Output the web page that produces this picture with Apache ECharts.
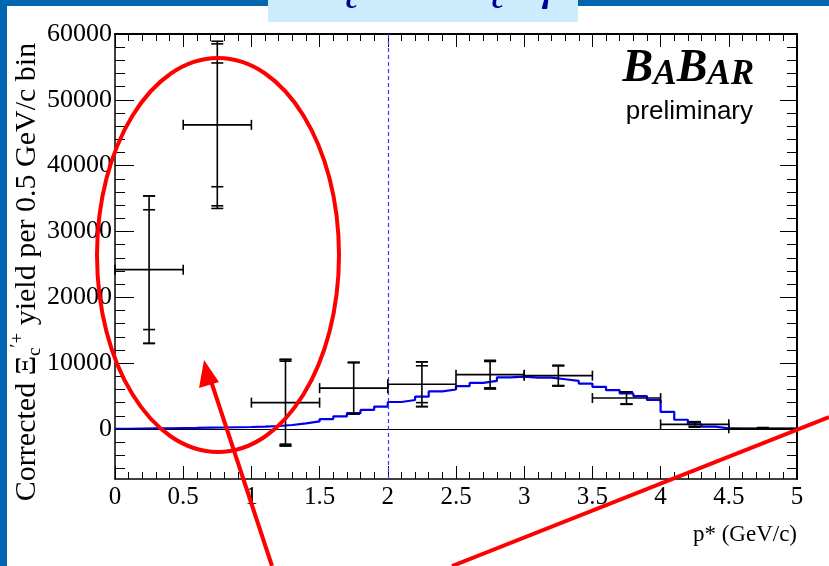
<!DOCTYPE html>
<html>
<head>
<meta charset="utf-8">
<script src="https://cdn.jsdelivr.net/npm/echarts@6/dist/echarts.min.js"></script>
<style>
html,body{margin:0;padding:0;background:#fff;}
#chart{width:829px;height:566px;}
</style>
</head>
<body>
<div id="chart"></div>
<script>
// ---- data ----
const binCenters = [0.25, 0.75, 1.25, 1.75, 2.25, 2.75, 3.25, 3.75, 4.25, 4.75];
const binHalfWidth = [0.25, 0.25, 0.25, 0.25, 0.25, 0.25, 0.25, 0.25, 0.25, 0.25];
const yields  = [24200, 46200, 4000, 6200, 6800, 8250, 8100, 4700, 700, 100];
const statErr = [9100, 9400, 6300, 3900, 2800, 2000, 1500, 900, 350, 80];
const totErr  = [11200, 12300, 6500, 3900, 3400, 2150, 1550, 950, 400, 100];
const totErr2 = [11200, 12700, 6600, 3900, 3400, 2150, 1550, 950, 400, 100];

const mcBinLow = [0.0,0.1,0.2,0.3,0.4,0.5,0.6,0.7,0.8,0.9,
                  1.0,1.1,1.2,1.3,1.4,1.5,1.6,1.7,1.8,1.9,
                  2.0,2.1,2.2,2.3,2.4,2.5,2.6,2.7,2.8,2.9,
                  3.0,3.1,3.2,3.3,3.4,3.5,3.6,3.7,3.8,3.9,
                  4.0,4.1,4.2,4.3,4.4,4.5,4.6,4.7,4.8,4.9];
const mcValues = [30,60,90,110,140,160,190,220,260,300,
                  350,450,600,850,1150,1500,1900,2400,2900,3400,
                  4100,4400,4900,5700,6000,6500,7000,7300,7850,7950,
                  7800,7800,7550,7300,6900,6400,5900,5400,5000,4400,
                  2600,1400,700,350,100,30,10,0,0,0];

const xTickLabels = [0,0.5,1,1.5,2,2.5,3,3.5,4,4.5,5];
const yTickLabels = [0,10000,20000,30000,40000,50000,60000];
const yMin = -7600, yMax = 60000;
const dividerX = 2;

// ---- derived ----
const errData = binCenters.map((c,i)=>[c, yields[i], statErr[i], totErr[i], totErr2[i], binHalfWidth[i]]);
const histData = mcBinLow.map((x,i)=>[x, mcValues[i]]);
histData.push([5, mcValues[mcValues.length-1]]);
const yMinor = [];
for (let v = -6000; v <= 60000; v += 2000) if (v % 10000 !== 0) yMinor.push(v);

const serif = 'Liberation Serif';
const chart = echarts.init(document.getElementById('chart'), null, {renderer:'canvas'});

function xAxisCfg(pos, labels){
  return {
    type:'value', min:0, max:5, interval:0.5, position:pos,
    axisLine:{show:true, onZero:false, lineStyle:{color:'#000', width: pos==='top'?2:1.5}},
    axisTick:{show:true, inside:true, length:13, lineStyle:{color:'#000', width:1}},
    minorTick:{show:true, splitNumber:5, length:7, lineStyle:{color:'#000', width:1}},
    axisLabel:{show:labels, fontFamily:serif, fontSize:25, color:'#000', margin:6,
               formatter:(v)=>String(v), showMinLabel:true, showMaxLabel:true},
    splitLine:{show:false}, minorSplitLine:{show:false}
  };
}
function yAxisCfg(pos, labels, ticks, len, lineShow){
  return {
    type:'value', min:yMin, max:yMax, position:pos, offset:0,
    axisLine:{show:lineShow, onZero:false, lineStyle:{color:'#000', width: pos==='right'?2:1.5}},
    axisTick:{show:true, inside:true, length:len, customValues:ticks, lineStyle:{color:'#000', width:1}},
    axisLabel:{show:labels, customValues:ticks, fontFamily:serif, fontSize:26, color:'#000', margin:3,
               formatter:(v)=>String(v)},
    splitLine:{show:false}
  };
}

const option = {
  backgroundColor:'#fff',
  animation:false,
  grid:{left:115, right:32, top:34, bottom:87, containLabel:false},
  xAxis:[ xAxisCfg('bottom', true), xAxisCfg('top', false) ],
  yAxis:[
    yAxisCfg('left', true, yTickLabels, 19, true),
    yAxisCfg('right', false, yTickLabels, 17, true),
    yAxisCfg('left', false, yMinor, 10, false),
    yAxisCfg('right', false, yMinor, 10, false)
  ],
  series:[
    {
      type:'line', name:'refs', data:[], z:1,
      markLine:{
        silent:true, symbol:'none', animation:false,
        label:{show:false},
        data:[
          {yAxis:0, lineStyle:{color:'#000', width:1.2, type:'solid'}},
          {xAxis:dividerX, lineStyle:{color:'#3a3aff', width:1.2, type:[4,3]}}
        ]
      }
    },
    {
      type:'line', name:'MC', data:histData, step:'end', showSymbol:false, symbol:'none',
      lineStyle:{color:'#0000ee', width:2.2}, z:3, silent:true
    },
    {
      type:'custom', name:'data', data:errData, z:5, silent:true,
      encode:{x:0, y:1},
      renderItem:function(params, api){
        const x=api.value(0), y=api.value(1), s=api.value(2), t=api.value(3), t2=api.value(4), hw=api.value(5);
        const c=api.coord([x,y]);
        const xl=api.coord([x-hw,y])[0], xr=api.coord([x+hw,y])[0];
        const py=(v)=>api.coord([x,v])[1];
        const st={stroke:'#000', lineWidth:1.6};
        const L=(x1,y1,x2,y2)=>({type:'line', shape:{x1,y1,x2,y2}, style:st});
        const ch=[];
        ch.push(L(c[0], py(y+t2), c[0], py(y-t2)));
        ch.push(L(xl, c[1], xr, c[1]));
        ch.push(L(xl, c[1]-5, xl, c[1]+5));
        ch.push(L(xr, c[1]-5, xr, c[1]+5));
        [s,t,t2].forEach(e=>{
          ch.push(L(c[0]-6, py(y+e), c[0]+6, py(y+e)));
          ch.push(L(c[0]-6, py(y-e), c[0]+6, py(y-e)));
        });
        return {type:'group', children:ch};
      }
    }
  ],
  graphic:[
    {type:'rect', shape:{x:0,y:0,width:829,height:6}, style:{fill:'#0066b0'}, z:100},
    {type:'rect', shape:{x:0,y:0,width:7,height:566}, style:{fill:'#0066b0'}, z:100},
    {type:'rect', shape:{x:268,y:0,width:310,height:22}, style:{fill:'#ccecfd'}, z:101},
    {type:'text', x:346, y:15, style:{text:'c', font:'italic bold 28px "Liberation Serif"', fill:'#000099', textVerticalAlign:'bottom'}, z:102},
    {type:'text', x:492, y:15, style:{text:'c', font:'italic bold 28px "Liberation Serif"', fill:'#000099', textVerticalAlign:'bottom'}, z:102},
    {type:'text', x:540, y:10, style:{text:'γ', font:'italic bold 38px "Liberation Serif"', fill:'#000099', textVerticalAlign:'bottom'}, z:102},
    {type:'text', x:754, y:92, style:{
      text:'{b|B}{a|A}{b|B}{a|A}{a|R}', align:'right', verticalAlign:'bottom',
      rich:{b:{fill:'#000', fontSize:46, fontStyle:'italic', fontWeight:'bold', fontFamily:serif, verticalAlign:'bottom'},
            a:{fill:'#000', fontSize:35, fontStyle:'italic', fontWeight:'bold', fontFamily:serif, verticalAlign:'bottom'}}
    }, z:50},
    {type:'text', x:753, y:112, style:{text:'preliminary', font:'26px "Liberation Sans"', fill:'#000', align:'right', verticalAlign:'middle'}, z:50},
    {type:'text', x:797, y:535, style:{text:'p* (GeV/c)', font:'23px "Liberation Serif"', fill:'#000', align:'right', verticalAlign:'middle'}, z:50},
    {type:'text', x:27, y:272, rotation:Math.PI/2, style:{
      text:'{n|Corrected }{n|Ξ}{s|c}{p|′+}{n| yield per 0.5 GeV/c bin}', align:'center', verticalAlign:'middle',
      rich:{n:{fontFamily:serif, fontSize:30, fill:'#000', lineHeight:36, verticalAlign:'middle'},
            s:{fontFamily:serif, fontSize:19, fill:'#000', verticalAlign:'bottom'},
            p:{fontFamily:serif, fontSize:19, fill:'#000', verticalAlign:'top'}}
    }, z:50},
    {type:'ellipse', shape:{cx:218, cy:255, rx:121, ry:197}, style:{fill:'none', stroke:'#ff0000', lineWidth:4}, z:60},
    {type:'line', shape:{x1:272, y1:566, x2:210, y2:378}, style:{stroke:'#ff0000', lineWidth:4}, z:60},
    {type:'polygon', shape:{points:[[204,360],[219,382],[199,388]]}, style:{fill:'#ff0000'}, z:60},
    {type:'line', shape:{x1:452, y1:566, x2:829, y2:417}, style:{stroke:'#ff0000', lineWidth:4}, z:60}
  ]
};
chart.setOption(option);
</script>
</body>
</html>
